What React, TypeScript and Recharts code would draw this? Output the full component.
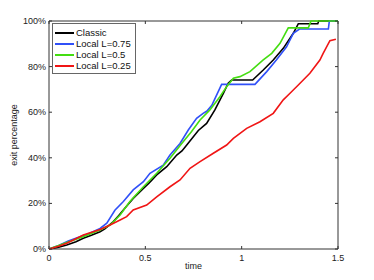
import { Legend, Line, LineChart, ReferenceArea, XAxis, YAxis } from "recharts";

const classicT = [0, 0.05, 0.092, 0.14, 0.178, 0.22, 0.265, 0.29, 0.334, 0.36, 0.386, 0.41, 0.437, 0.49, 0.52, 0.559, 0.611, 0.663, 0.69, 0.715, 0.775, 0.818, 0.861, 0.905, 0.93, 0.948, 1.057, 1.112, 1.164, 1.216, 1.268, 1.294, 1.395, 1.4, 1.5];
const classicV = [0, 0.8, 1.8, 3.2, 4.7, 6, 7.6, 8.8, 12, 14.5, 17.1, 19.5, 22.2, 26.6, 29, 32.5, 36.1, 41.2, 43, 45.6, 52, 55.1, 61, 68.3, 72.7, 74.1, 74.1, 78.5, 82.9, 88, 94.6, 98.8, 98.8, 100, 100];

const l075T = [0, 0.05, 0.1, 0.15, 0.2, 0.265, 0.3, 0.342, 0.386, 0.437, 0.49, 0.524, 0.593, 0.628, 0.68, 0.723, 0.766, 0.8, 0.82, 0.845, 0.896, 1.069, 1.13, 1.18, 1.233, 1.268, 1.3, 1.45, 1.455, 1.5];
const l075V = [0, 1.5, 3.5, 5, 6.5, 9, 11.3, 17, 20.8, 25.9, 29.5, 33.2, 36.8, 41.2, 46.3, 52.2, 57.3, 59.5, 60.5, 63, 72.2, 72.2, 77.8, 82.9, 88.7, 94.6, 96.5, 96.5, 100, 100];

const l05T = [0, 0.05, 0.092, 0.178, 0.265, 0.317, 0.369, 0.42, 0.49, 0.559, 0.628, 0.689, 0.74, 0.784, 0.835, 0.887, 0.922, 0.957, 0.991, 1.043, 1.112, 1.156, 1.199, 1.242, 1.346, 1.36, 1.5];
const l05V = [0, 1.5, 2.8, 5.4, 8.3, 10.5, 14.9, 20.8, 27.3, 33.2, 39.8, 46.3, 51.5, 56.6, 61, 66.8, 71.2, 74.9, 75.6, 77.8, 82.9, 85.8, 90.2, 97, 97, 100, 100];

const l025T = [0, 0.05, 0.092, 0.178, 0.265, 0.317, 0.369, 0.403, 0.437, 0.507, 0.559, 0.628, 0.68, 0.732, 0.784, 0.853, 0.922, 0.957, 1.026, 1.095, 1.164, 1.216, 1.251, 1.303, 1.354, 1.406, 1.423, 1.458, 1.489];
const l025V = [0, 1.2, 2.5, 6.1, 8.6, 10.5, 12.7, 14.2, 17.1, 19.3, 22.9, 27.3, 30.3, 35.4, 38.3, 42, 45.6, 48.5, 52.9, 55.8, 59.5, 65.4, 68.3, 72.7, 77.1, 82.9, 85.8, 91.4, 92];

const xTicks = [0, 0.5, 1, 1.5];
const yTicks = [0, 20, 40, 60, 80, 100];

const toRows = (t: number[], v: number[]) => t.map((x, i) => ({ t: x, v: v[i] }));

const series = [
  { name: "Classic", color: "#000000", data: toRows(classicT, classicV) },
  { name: "Local L=0.75", color: "#3050f8", data: toRows(l075T, l075V) },
  { name: "Local L=0.5", color: "#44dd11", data: toRows(l05T, l05V) },
  { name: "Local L=0.25", color: "#f01515", data: toRows(l025T, l025V) },
];

// plot box in page pixels
const LEFT = 49;
const RIGHT = 338;
const TOP = 21;
const BOTTOM = 249;
const AXIS = "#333333";
const FONT = "'Liberation Sans', Arial, sans-serif";

function XTick(p: any) {
  const x = p.x;
  return (
    <g>
      <line x1={x} x2={x} y1={BOTTOM} y2={BOTTOM - 3} stroke={AXIS} />
      <line x1={x} x2={x} y1={TOP} y2={TOP + 3} stroke={AXIS} />
      <text x={x} y={BOTTOM + 12} textAnchor="middle" fontSize={9} fontFamily={FONT} fill="#222">
        {p.payload.value}
      </text>
    </g>
  );
}

function YTick(p: any) {
  const y = p.y;
  return (
    <g>
      <line x1={LEFT} x2={LEFT + 3} y1={y} y2={y} stroke={AXIS} />
      <line x1={RIGHT} x2={RIGHT - 3} y1={y} y2={y} stroke={AXIS} />
      <text x={LEFT - 3} y={y + 3} textAnchor="end" fontSize={9} fontFamily={FONT} fill="#222">
        {p.payload.value}%
      </text>
    </g>
  );
}

function LegendBox() {
  return (
    <div
      style={{
        background: "#fff",
        border: "1px solid #666",
        padding: "3px 4px 2px 2px",
        fontFamily: FONT,
        fontSize: 9.5,
        color: "#111",
        lineHeight: "11px",
      }}
    >
      {series.map((s) => (
        <div key={s.name} style={{ display: "flex", alignItems: "center" }}>
          <span style={{ display: "inline-block", width: 19, height: 2, background: s.color, marginRight: 2 }} />
          {s.name}
        </div>
      ))}
    </div>
  );
}

export default function App() {
  return (
    <div style={{ position: "absolute", left: 0, top: 0, width: 374, height: 280, background: "#fff" }}>
      <LineChart width={374} height={280} margin={{ top: TOP, right: 374 - RIGHT, bottom: 11, left: 9 }}>
        <XAxis
          type="number"
          dataKey="t"
          domain={[0, 1.5]}
          ticks={xTicks}
          tick={<XTick />}
          tickLine={false}
          tickSize={0}
          tickMargin={0}
          axisLine={false}
          height={20}
          allowDuplicatedCategory={false}
        />
        <YAxis
          type="number"
          domain={[0, 100]}
          ticks={yTicks}
          tick={<YTick />}
          tickLine={false}
          tickSize={0}
          tickMargin={0}
          axisLine={false}
          width={40}
        />
        <ReferenceArea x1={0} x2={1.5} y1={0} y2={100} fill="none" stroke={AXIS} strokeWidth={1} />
        {series.map((s) => (
          <Line
            key={s.name}
            data={s.data}
            dataKey="v"
            name={s.name}
            type="linear"
            stroke={s.color}
            strokeWidth={1.6}
            dot={false}
            isAnimationActive={false}
          />
        ))}
        <Legend
          layout="vertical"
          align="center"
          verticalAlign="middle"
          content={<LegendBox />}
          wrapperStyle={{ position: "absolute", left: 52, top: 23, width: "auto" }}
        />
      </LineChart>
      <div
        style={{ position: "absolute", left: 0, top: 261, width: 374, textAlign: "center", paddingLeft: 13, boxSizing: "border-box", fontFamily: FONT, fontSize: 9, color: "#222" }}
      >
        time
      </div>
      <div
        style={{
          position: "absolute",
          left: 14,
          top: 135,
          transform: "translate(-50%, -50%) rotate(-90deg)",
          whiteSpace: "nowrap",
          fontFamily: FONT,
          fontSize: 9,
          color: "#222",
        }}
      >
        exit percentage
      </div>
    </div>
  );
}
